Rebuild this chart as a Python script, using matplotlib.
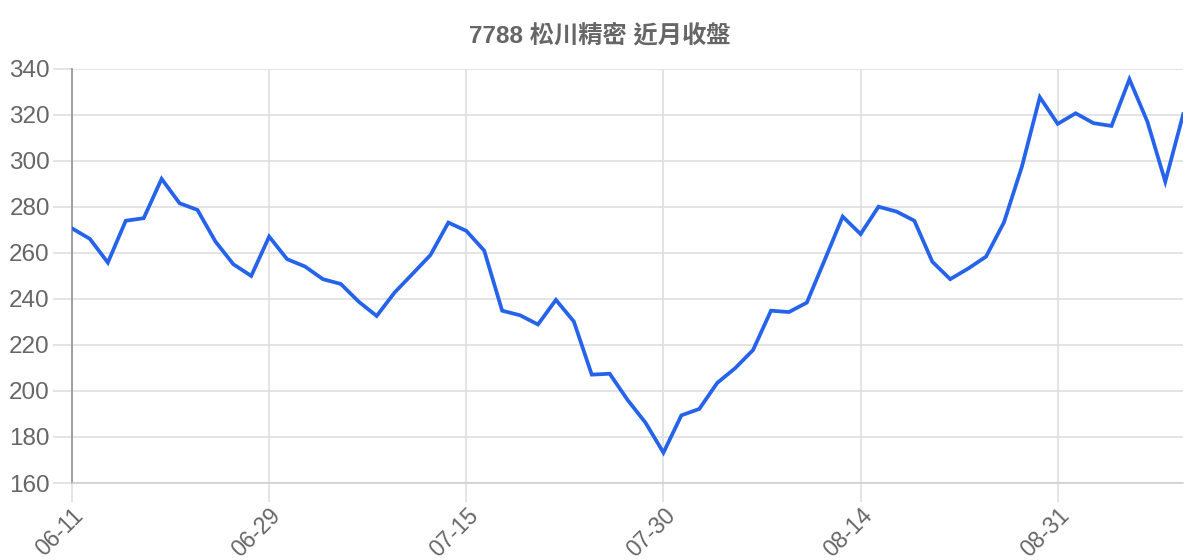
import numpy as np
import matplotlib.pyplot as plt

plt.rcParams['font.family'] = ['Liberation Sans', 'Noto Sans CJK TC', 'DejaVu Sans']

# closing prices, one per trading day
close = [270.7, 266.1, 255.8, 274.0, 275.1, 292.2, 281.6, 278.7, 265.0, 255.1,
         250.0, 267.1, 257.3, 254.1, 248.6, 246.5, 238.8, 232.6, 242.8, 250.9,
         259.1, 273.2, 269.6, 261.0, 234.9, 232.9, 228.9, 239.6, 230.2, 207.1,
         207.5, 196.1, 186.2, 173.2, 189.4, 192.2, 203.5, 209.9, 217.8, 234.9,
         234.3, 238.4, 257.0, 275.8, 268.2, 280.1, 278.0, 274.0, 256.2, 248.6,
         253.2, 258.4, 273.3, 297.5, 327.7, 316.1, 320.7, 316.4, 315.2, 335.5,
         317.1, 291.0, 320.3]
tick_labels = ['06-11', '06-29', '07-15', '07-30', '08-14', '08-31']
y_ticks = [160, 180, 200, 220, 240, 260, 280, 300, 320, 340]

grid_c = '#dddddd'
text_c = '#666666'

fig = plt.figure(figsize=(12, 5.6), dpi=100)
fig.patch.set_facecolor('white')
ax = fig.add_axes([0.06, 0.1375, 0.926, 0.7395])

x = np.arange(len(close))
ax.plot(x, close, color='#2563eb', lw=2.7, solid_joinstyle='miter', zorder=3)

ax.set_xlim(0, len(close) - 1)
ax.set_ylim(160, 340)
ax.set_yticks(y_ticks)
ax.set_xticks(x[::11])
ax.set_xticklabels(tick_labels, rotation=45, ha='right', va='top',
                   rotation_mode='anchor')

ax.grid(True, color=grid_c, lw=1.1)
ax.tick_params(axis='both', length=14, width=1.1, color=grid_c,
               labelcolor=text_c, pad=2)
ax.tick_params(axis='y', labelsize=17.5)
ax.tick_params(axis='x', labelsize=16.5, pad=1)
for s in ['top', 'right']:
    ax.spines[s].set_visible(False)
ax.spines['bottom'].set_color('#cccccc')
ax.spines['bottom'].set_linewidth(1.1)
ax.spines['left'].set_color('#999999')
ax.spines['left'].set_linewidth(1.3)
ax.set_axisbelow(True)

fig.text(0.5, 0.937, '7788 松川精密 近月收盤', ha='center', va='center',
         fontsize=17.5, fontweight='bold', color=text_c)

fig.savefig('out.png', dpi=100)
